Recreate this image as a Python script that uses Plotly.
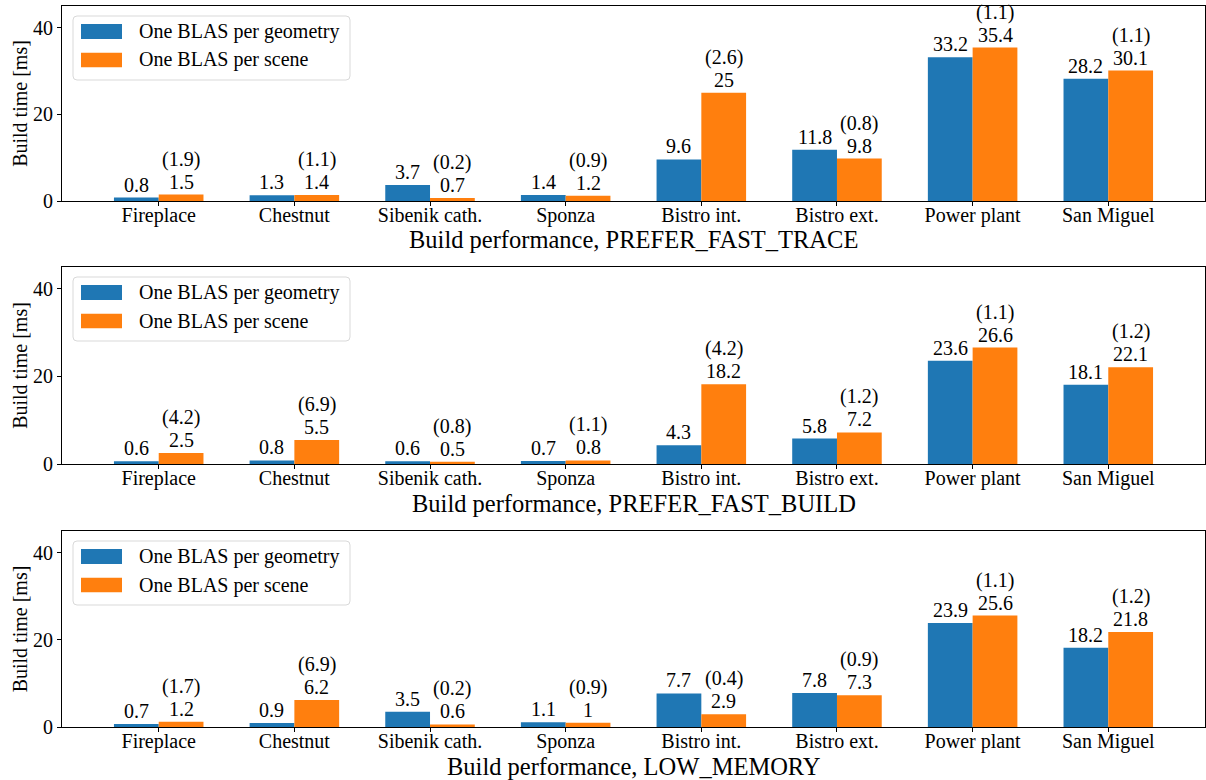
import plotly.graph_objects as go
from plotly.subplots import make_subplots

# Scenes and build times (ms) for the three build flags
categories = ["Fireplace", "Chestnut", "Sibenik cath.", "Sponza",
              "Bistro int.", "Bistro ext.", "Power plant", "San Miguel"]

fast_trace_per_geometry = [0.8, 1.3, 3.7, 1.4, 9.6, 11.8, 33.2, 28.2]
fast_trace_per_scene = [1.5, 1.4, 0.7, 1.2, 25, 9.8, 35.4, 30.1]

fast_build_per_geometry = [0.6, 0.8, 0.6, 0.7, 4.3, 5.8, 23.6, 18.1]
fast_build_per_scene = [2.5, 5.5, 0.5, 0.8, 18.2, 7.2, 26.6, 22.1]

low_memory_per_geometry = [0.7, 0.9, 3.5, 1.1, 7.7, 7.8, 23.9, 18.2]
low_memory_per_scene = [1.2, 6.2, 0.6, 1.0, 2.9, 7.3, 25.6, 21.8]

panel_titles = ["Build performance, PREFER_FAST_TRACE",
                "Build performance, PREFER_FAST_BUILD",
                "Build performance, LOW_MEMORY"]
series_names = ["One BLAS per geometry", "One BLAS per scene"]
y_ticks = [0, 20, 40]

panels = [
    (fast_trace_per_geometry, fast_trace_per_scene),
    (fast_build_per_geometry, fast_build_per_scene),
    (low_memory_per_geometry, low_memory_per_scene),
]

BLUE = "#1f77b4"
ORANGE = "#ff7f0e"
FONT = "Liberation Serif"
FS = 20
BAR_W = 0.33

# figure pixel layout
W, H = 1206, 780
ML, MR, MT, MB = 62, 1, 6, 53
plot_w = W - ML - MR
plot_h = H - MT - MB
# axes top / bottom in pixels for each panel
panel_px = [(6, 201), (267, 464), (531, 727)]


def py(p):
    return (H - MB - p) / plot_h


def px(p):
    return (p - ML) / plot_w


def rounded_box(x0, x1, y0, y1, rad=4):
    """SVG path (paper coords) of a rounded rectangle given pixel edges."""
    L, R = px(x0), px(x1)
    T, B = py(y0), py(y1)
    rx, ry = rad / plot_w, rad / plot_h
    return (f"M{L + rx},{T} L{R - rx},{T} Q{R},{T} {R},{T - ry} "
            f"L{R},{B + ry} Q{R},{B} {R - rx},{B} "
            f"L{L + rx},{B} Q{L},{B} {L},{B + ry} "
            f"L{L},{T - ry} Q{L},{T} {L + rx},{T} Z")


fig = make_subplots(rows=3, cols=1)

x_pos = list(range(len(categories)))
annotations = []
shapes = []
label_font = dict(family=FONT, size=FS, color="black")

for r, ((geom, scene), title) in enumerate(zip(panels, panel_titles), start=1):
    fig.add_trace(go.Bar(x=x_pos, y=geom, width=BAR_W, offset=-BAR_W,
                         marker=dict(color=BLUE, line=dict(width=0)),
                         name=series_names[0], showlegend=False), row=r, col=1)
    fig.add_trace(go.Bar(x=x_pos, y=scene, width=BAR_W, offset=0,
                         marker=dict(color=ORANGE, line=dict(width=0)),
                         name=series_names[1], showlegend=False), row=r, col=1)

    xa = "x" if r == 1 else f"x{r}"
    ya = "y" if r == 1 else f"y{r}"
    for i, (g, s) in enumerate(zip(geom, scene)):
        annotations.append(dict(x=i - BAR_W / 2, y=g, xref=xa, yref=ya,
                                text=f"{g:g}", showarrow=False,
                                yanchor="bottom", yshift=1, borderpad=0,
                                font=label_font))
        annotations.append(dict(x=i + BAR_W / 2, y=s, xref=xa, yref=ya,
                                text=f"{s:g}", showarrow=False,
                                yanchor="bottom", yshift=1, borderpad=0,
                                font=label_font))
        annotations.append(dict(x=i + BAR_W / 2, y=s, xref=xa, yref=ya,
                                text=f"({s / g:.1f})", showarrow=False,
                                yanchor="bottom", yshift=23, borderpad=0,
                                font=label_font))

    top, bottom = panel_px[r - 1]

    # panel caption below the category labels
    annotations.append(dict(x=0.5, y=py(bottom + 39), xref="paper", yref="paper",
                            text=title, showarrow=False, xanchor="center",
                            yanchor="middle", borderpad=0,
                            font=dict(family=FONT, size=24.5, color="black")))

    # legend box drawn inside the panel
    shapes.append(dict(type="path", xref="paper", yref="paper",
                       path=rounded_box(73, 350, top + 10, top + 74),
                       line=dict(color="#d9d9d9", width=1),
                       fillcolor="rgba(255,255,255,0.8)", layer="above"))
    for color, name, y0, y1, yc in [
            (BLUE, series_names[0], top + 18, top + 33, top + 25.5),
            (ORANGE, series_names[1], top + 46.7, top + 61.3, top + 54)]:
        shapes.append(dict(type="rect", xref="paper", yref="paper",
                           x0=px(81), x1=px(122), y0=py(y1), y1=py(y0),
                           line=dict(width=0), fillcolor=color, layer="above"))
        annotations.append(dict(x=px(138), y=py(yc), xref="paper", yref="paper",
                                text=name, showarrow=False, xanchor="left",
                                yanchor="middle", borderpad=0,
                                font=label_font))

    axis_common = dict(showline=True, linecolor="black", linewidth=1,
                       mirror=True, ticks="outside", ticklen=4, tickwidth=1,
                       tickcolor="black", showgrid=False, zeroline=False)
    fig.update_xaxes(axis_common, row=r, col=1,
                     range=[-0.713, 7.713], tickmode="array",
                     tickvals=x_pos, ticktext=categories,
                     tickfont=label_font, ticklabelstandoff=-8)
    fig.update_yaxes(axis_common, row=r, col=1,
                     range=[0, 45], tickmode="array", tickvals=y_ticks,
                     tickfont=label_font,
                     title=dict(text="Build time [ms]", standoff=0,
                                font=label_font))

# panel placement
for r, (top, bottom) in enumerate(panel_px, start=1):
    key = "yaxis" if r == 1 else f"yaxis{r}"
    fig.layout[key].domain = [py(bottom), py(top)]
    xkey = "xaxis" if r == 1 else f"xaxis{r}"
    fig.layout[xkey].domain = [0, 1]

fig.update_layout(
    width=W, height=H,
    margin=dict(l=ML, r=MR, t=MT, b=MB),
    paper_bgcolor="white", plot_bgcolor="white",
    barmode="overlay", showlegend=False,
    annotations=annotations, shapes=shapes,
    font=dict(family=FONT, color="black"),
)

fig.write_html("out.html")
